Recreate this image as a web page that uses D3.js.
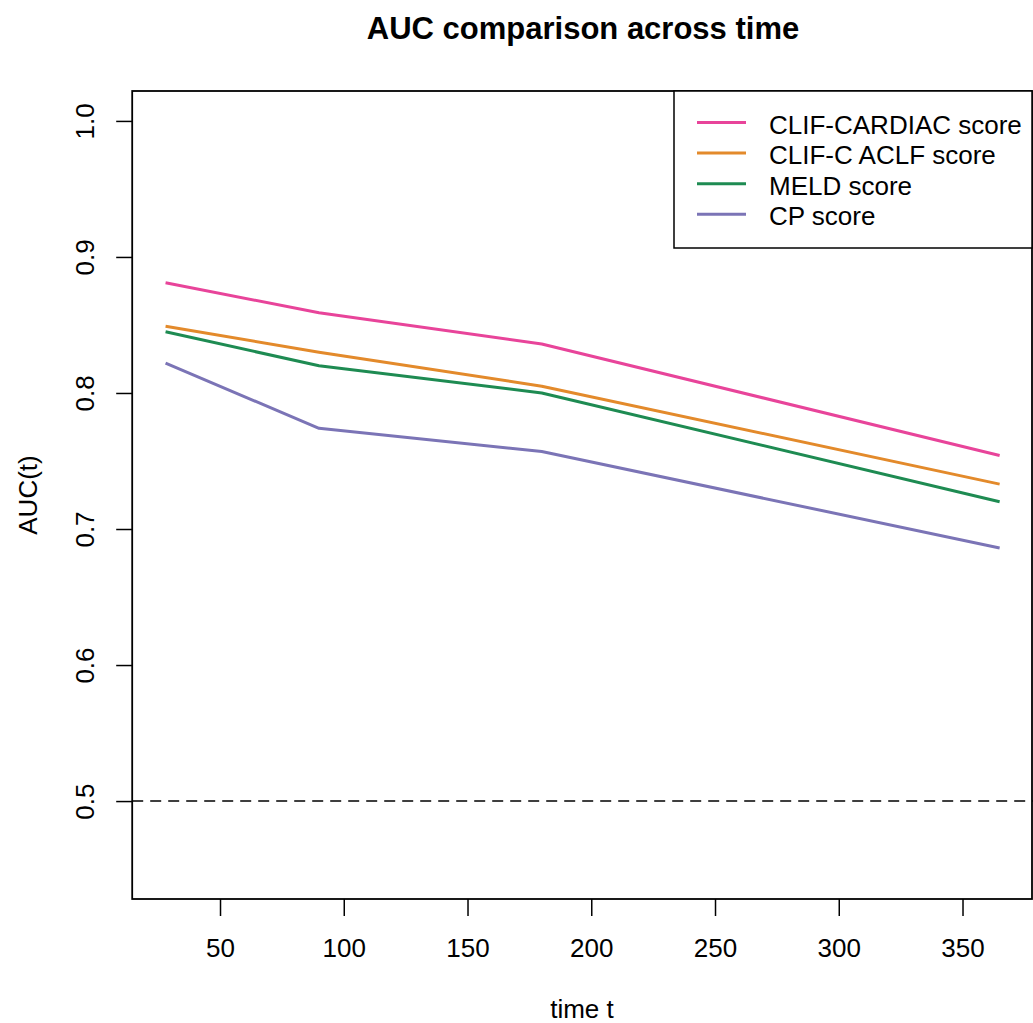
<!DOCTYPE html>
<html>
<head>
<meta charset="utf-8">
<script src="https://cdn.jsdelivr.net/npm/d3@7"></script>
<style>
  html, body { margin: 0; padding: 0; background: #fff; }
  svg text { font-family: "Liberation Sans", Arial, sans-serif; fill: #000; }
</style>
</head>
<body>
<svg id="chart" width="1033" height="1023"></svg>
<script>
// Evaluation times (days)
const times = [28, 90, 180, 365];

// Time-dependent AUC for each score
const series = ["CLIF-CARDIAC score", "CLIF-C ACLF score", "MELD score", "CP score"];
const aucCardiac = [0.881, 0.859, 0.836, 0.754];
const aucAclf    = [0.849, 0.830, 0.805, 0.733];
const aucMeld    = [0.845, 0.820, 0.800, 0.720];
const aucCp      = [0.822, 0.774, 0.757, 0.686];
const seriesValues = [aucCardiac, aucAclf, aucMeld, aucCp];
const seriesColors = ["#E8449A", "#E38A2B", "#1E8B52", "#7B74B6"];

// Axis ticks and reference level
const xTicks = [50, 100, 150, 200, 250, 300, 350];
const yTicks = [0.5, 0.6, 0.7, 0.8, 0.9, 1.0];
const refLevel = 0.5;

const fontSize = "26px";
const svg = d3.select("#chart");

const plot = { left: 132.2, right: 1033, top: 91, bottom: 899 };

// R-style 4% range extension
const xExt = (times[times.length - 1] - times[0]) * 0.04;
const x = d3.scaleLinear()
  .domain([times[0] - xExt, times[times.length - 1] + xExt])
  .range([plot.left, plot.right]);
const y = d3.scaleLinear()
  .domain([0.45 - 0.022, 1.0 + 0.022])
  .range([plot.bottom, plot.top]);

// Title
svg.append("text")
  .attr("x", 583).attr("y", 39)
  .attr("text-anchor", "middle")
  .style("font-size", "31px").style("font-weight", "bold")
  .text("AUC comparison across time");

// Axes
const xAxis = svg.append("g")
  .attr("transform", `translate(0,${plot.bottom})`)
  .call(d3.axisBottom(x).tickValues(xTicks).tickSize(17).tickSizeOuter(0));
xAxis.select(".domain").remove();
xAxis.selectAll(".tick line").attr("stroke", "#000").attr("stroke-width", 1.5);
xAxis.selectAll(".tick text")
  .attr("y", 58).attr("dy", 0)
  .style("font-size", fontSize);

const yAxis = svg.append("g")
  .attr("transform", `translate(${plot.left},0)`)
  .call(d3.axisLeft(y).tickValues(yTicks).tickSize(16).tickSizeOuter(0).tickFormat(d3.format(".1f")));
yAxis.select(".domain").remove();
yAxis.selectAll(".tick line").attr("stroke", "#000").attr("stroke-width", 1.5);
yAxis.selectAll(".tick text")
  .attr("x", 0).attr("y", 0).attr("dy", 0)
  .attr("text-anchor", "middle")
  .attr("transform", `translate(${94 - plot.left},0) rotate(-90)`)
  .style("font-size", fontSize);

// Axis titles
svg.append("text")
  .attr("x", 582).attr("y", 1018)
  .attr("text-anchor", "middle")
  .style("font-size", fontSize)
  .text("time t");
svg.append("text")
  .attr("transform", `translate(37,${(plot.top + plot.bottom) / 2}) rotate(-90)`)
  .attr("text-anchor", "middle")
  .style("font-size", fontSize)
  .text("AUC(t)");

// Chance reference line
svg.append("line")
  .attr("x1", plot.left).attr("x2", plot.right)
  .attr("y1", y(refLevel)).attr("y2", y(refLevel))
  .attr("stroke", "#000").attr("stroke-width", 1.5)
  .attr("stroke-dasharray", "11,7");

// AUC curves
const line = d3.line().x((d, i) => x(times[i])).y(d => y(d));
seriesValues.forEach((vals, k) => {
  svg.append("path")
    .datum(vals)
    .attr("d", line)
    .attr("fill", "none")
    .attr("stroke", seriesColors[k])
    .attr("stroke-width", 3)
    .attr("stroke-linejoin", "round");
});

// Plot frame
svg.append("rect")
  .attr("x", plot.left).attr("y", plot.top)
  .attr("width", 1032 - plot.left).attr("height", plot.bottom - plot.top)
  .attr("fill", "none").attr("stroke", "#000").attr("stroke-width", 1.8);

// Legend
const legend = svg.append("g");
legend.append("rect")
  .attr("x", 674).attr("y", plot.top)
  .attr("width", 1032 - 674).attr("height", 248 - plot.top)
  .attr("fill", "#fff").attr("stroke", "#000").attr("stroke-width", 1.5);
series.forEach((name, k) => {
  const base = 133.5 + k * 30.6;
  legend.append("line")
    .attr("x1", 697).attr("x2", 746)
    .attr("y1", base - 11).attr("y2", base - 11)
    .attr("stroke", seriesColors[k]).attr("stroke-width", 3);
  legend.append("text")
    .attr("x", 769).attr("y", base)
    .style("font-size", fontSize)
    .text(name);
});
</script>
</body>
</html>
